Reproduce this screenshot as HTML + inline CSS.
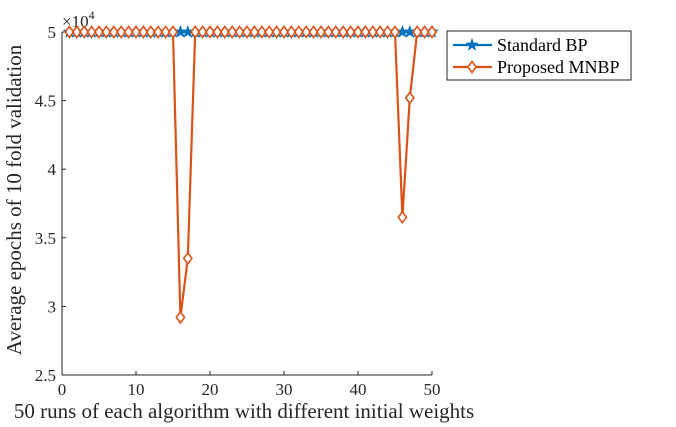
<!DOCTYPE html>
<html><head><meta charset="utf-8"><style>
body{margin:0;background:#fff}
svg{display:block;font-family:"Liberation Serif",serif}
</style></head><body>
<svg id="chart" width="676" height="427" viewBox="0 0 676 427" xmlns="http://www.w3.org/2000/svg"></svg>
<script>
const runs = Array.from({length:50},(_,i)=>i+1);
const standardBP = [50000,50000,50000,50000,50000,50000,50000,50000,50000,50000,50000,50000,50000,50000,50000,50000,50000,50000,50000,50000,50000,50000,50000,50000,50000,50000,50000,50000,50000,50000,50000,50000,50000,50000,50000,50000,50000,50000,50000,50000,50000,50000,50000,50000,50000,50000,50000,50000,50000,50000];
const proposedMNBP = [50000,50000,50000,50000,50000,50000,50000,50000,50000,50000,50000,50000,50000,50000,50000,29200,33500,50000,50000,50000,50000,50000,50000,50000,50000,50000,50000,50000,50000,50000,50000,50000,50000,50000,50000,50000,50000,50000,50000,50000,50000,50000,50000,50000,50000,36500,45200,50000,50000,50000];
const xTicks = [0,10,20,30,40,50];
const yTicks = [25000,30000,35000,40000,45000,50000];
const yTickLabels = ["2.5","3","3.5","4","4.5","5"];

const NS="http://www.w3.org/2000/svg";
const svg=document.getElementById('chart');
const L=62,R=432,T=32,B=375;
const xs=v=>L+(v-0)/50*(R-L);
const ys=v=>B-(v-25000)/25000*(B-T);
function mk(tag,attrs,parent){const e=document.createElementNS(NS,tag);for(const k in attrs)e.setAttribute(k,attrs[k]);(parent||svg).appendChild(e);return e;}

const axes=mk('g',{});


mk('line',{x1:L,y1:T,x2:L,y2:B,stroke:'#262626','stroke-width':1},axes);
mk('line',{x1:L,y1:B,x2:R,y2:B,stroke:'#262626','stroke-width':1},axes);
xTicks.forEach(t=>{
  mk('line',{x1:xs(t),y1:B,x2:xs(t),y2:B-4,stroke:'#262626'},axes);
  const tx=mk('text',{x:xs(t),y:B+20,'text-anchor':'middle','font-size':17,fill:'#262626'},axes);
  tx.textContent=t;
  
  
});
yTicks.forEach((t,i)=>{
  mk('line',{x1:L,y1:ys(t),x2:L+4,y2:ys(t),stroke:'#262626'},axes);
  const tx=mk('text',{x:L-6,y:ys(t)+6,'text-anchor':'end','font-size':17,fill:'#262626'},axes);
  tx.textContent=yTickLabels[i];
  
  
});
const ex=mk('text',{x:62,y:27,'font-size':17,fill:'#262626'});
ex.innerHTML='×10<tspan dy="-8" font-size="12">4</tspan>';


const xl=mk('text',{x:244,y:418,'text-anchor':'middle','font-size':21,fill:'#262626'});
xl.textContent='50 runs of each algorithm with different initial weights';


const yl=mk('text',{x:0,y:0,'text-anchor':'middle','font-size':21,fill:'#262626',transform:'translate(21,200) rotate(-90)'});
yl.textContent='Average epochs of 10 fold validation';



function star(cx,cy,r,g,c){
  let p=[];for(let i=0;i<10;i++){const a=-Math.PI/2+i*Math.PI/5;const rr=i%2?r*0.4:r;p.push((cx+rr*Math.cos(a)).toFixed(1)+','+(cy+rr*Math.sin(a)).toFixed(1));}
  const s=mk('polygon',{points:p.join(' '),fill:c,stroke:c,'stroke-width':0.5},g);
  
  
}
function diamond(cx,cy,r,g,c){
  const d=mk('polygon',{points:`${cx},${cy-r} ${cx+r*0.75},${cy} ${cx},${cy+r} ${cx-r*0.75},${cy}`,fill:'#fff',stroke:c,'stroke-width':1.6},g);
  
  
}
const blue='#0072BD',orange='#D95319';
const g1=mk('g',{});


mk('polyline',{points:runs.map((r,i)=>xs(r)+','+ys(standardBP[i])).join(' '),fill:'none',stroke:blue,'stroke-width':2.2},g1);
runs.forEach((r,i)=>star(xs(r),ys(standardBP[i]),6.5,g1,blue));
const g2=mk('g',{});


mk('polyline',{points:runs.map((r,i)=>xs(r)+','+ys(proposedMNBP[i])).join(' '),fill:'none',stroke:orange,'stroke-width':2.2},g2);
runs.forEach((r,i)=>diamond(xs(r),ys(proposedMNBP[i]),5.5,g2,orange));

const lg=mk('g',{});


mk('rect',{x:447,y:31,width:184,height:49,fill:'#fff',stroke:'#262626','stroke-width':1},lg);
mk('line',{x1:453,y1:45,x2:492,y2:45,stroke:blue,'stroke-width':2.2},lg);
star(472,45,6.5,lg,blue);
const t1=mk('text',{x:497,y:51,'font-size':18,fill:'#000'},lg);t1.textContent='Standard BP';


mk('line',{x1:453,y1:67,x2:492,y2:67,stroke:orange,'stroke-width':2.2},lg);
diamond(472,67,5.5,lg,orange);
const t2=mk('text',{x:497,y:73,'font-size':18,fill:'#000'},lg);t2.textContent='Proposed MNBP';


</script>
</body></html>
